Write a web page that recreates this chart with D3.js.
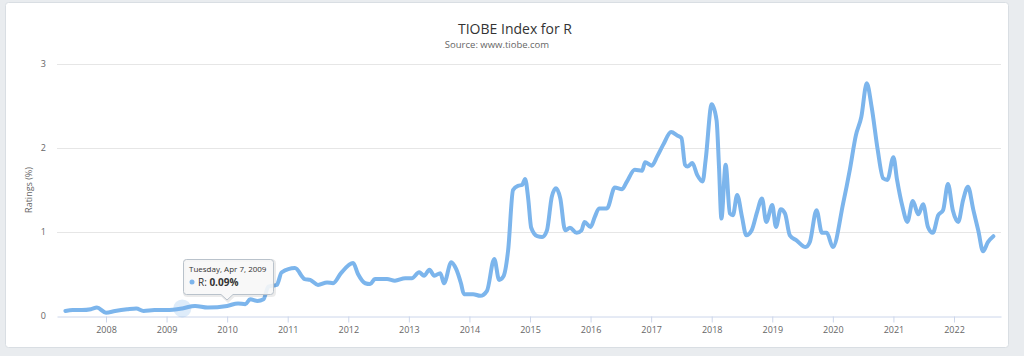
<!DOCTYPE html>
<html>
<head>
<meta charset="utf-8">
<script src="https://cdn.jsdelivr.net/npm/d3@7"></script>
<style>
  html, body { margin: 0; padding: 0; background: #e9ecef; }
  svg { display: block; }
  text { font-family: "Open Sans", "DejaVu Sans", sans-serif; }
</style>
</head>
<body>
<svg id="chart" width="1024" height="356"></svg>
<script>
// ---- data (decimal year, rating %) ----
const dates = [
  2007.33, 2007.45, 2007.6, 2007.75, 2007.85, 2008.0, 2008.15, 2008.35, 2008.5, 2008.62, 2008.8, 2009.0, 2009.26,
  2009.47, 2009.68, 2010.0, 2010.18, 2010.3, 2010.38, 2010.5, 2010.6, 2010.68, 2010.82, 2010.9, 2011.12,
  2011.28, 2011.37, 2011.5, 2011.65, 2011.75, 2011.88, 2012.08, 2012.16, 2012.28, 2012.36, 2012.44, 2012.64,
  2012.77, 2012.94, 2013.05, 2013.17, 2013.25, 2013.34, 2013.42, 2013.52, 2013.58, 2013.7, 2013.78, 2013.86,
  2013.91, 2014.06, 2014.18, 2014.29, 2014.41, 2014.49, 2014.56, 2014.64, 2014.72, 2014.8, 2014.87, 2014.92,
  2014.97, 2015.02, 2015.12, 2015.2, 2015.28, 2015.36, 2015.43, 2015.5, 2015.58, 2015.66, 2015.77, 2015.85,
  2015.9, 2016.0, 2016.07, 2016.14, 2016.27, 2016.4, 2016.52, 2016.6, 2016.73, 2016.85, 2016.9, 2017.01,
  2017.1, 2017.2, 2017.33, 2017.43, 2017.5, 2017.56, 2017.6, 2017.68, 2017.76, 2017.85, 2017.9, 2018.0,
  2018.08, 2018.12, 2018.16, 2018.23, 2018.3, 2018.35, 2018.42, 2018.5, 2018.57, 2018.66, 2018.75, 2018.83,
  2018.9, 2019.0, 2019.06, 2019.14, 2019.21, 2019.29, 2019.4, 2019.55, 2019.62, 2019.73, 2019.82, 2019.9,
  2020.0, 2020.17, 2020.28, 2020.38, 2020.47, 2020.56, 2020.64, 2020.74, 2020.83, 2020.9, 2021.0, 2021.06,
  2021.15, 2021.23, 2021.32, 2021.41, 2021.49, 2021.57, 2021.65, 2021.74, 2021.82, 2021.9, 2021.98, 2022.07,
  2022.15, 2022.23, 2022.32, 2022.4, 2022.48, 2022.56, 2022.65
];
const ratings = [
  0.06, 0.07, 0.07, 0.08, 0.10, 0.04, 0.06, 0.08, 0.09, 0.06, 0.07, 0.07, 0.09,
  0.12, 0.10, 0.12, 0.15, 0.14, 0.20, 0.18, 0.20, 0.35, 0.37, 0.52, 0.57,
  0.44, 0.43, 0.37, 0.40, 0.39, 0.51, 0.63, 0.50, 0.39, 0.38, 0.44, 0.44,
  0.42, 0.45, 0.45, 0.52, 0.48, 0.55, 0.48, 0.51, 0.39, 0.64, 0.56, 0.39,
  0.26, 0.26, 0.24, 0.30, 0.68, 0.43, 0.47, 0.79, 1.50, 1.55, 1.56, 1.63,
  1.40, 1.05, 0.95, 0.94, 1.02, 1.42, 1.52, 1.40, 1.02, 1.05, 0.99, 1.02,
  1.12, 1.06, 1.18, 1.28, 1.28, 1.53, 1.51, 1.60, 1.74, 1.73, 1.83, 1.79,
  1.90, 2.04, 2.19, 2.15, 2.12, 1.80, 1.78, 1.82, 1.68, 1.60, 1.86, 2.52,
  2.33, 1.78, 1.16, 1.80, 1.22, 1.20, 1.44, 1.18, 0.96, 1.02, 1.24, 1.40,
  1.12, 1.32, 1.06, 1.27, 1.22, 0.96, 0.90, 0.82, 0.88, 1.26, 0.99, 0.99,
  0.82, 1.34, 1.74, 2.15, 2.37, 2.77, 2.49, 1.98, 1.64, 1.62, 1.89, 1.62,
  1.30, 1.12, 1.37, 1.21, 1.33, 1.06, 0.99, 1.20, 1.26, 1.57, 1.26, 1.12,
  1.38, 1.54, 1.26, 1.02, 0.77, 0.88, 0.95
];
const xTickYears = [2008, 2009, 2010, 2011, 2012, 2013, 2014, 2015, 2016, 2017, 2018, 2019, 2020, 2021, 2022];
const yTicks = [0, 1, 2, 3];
const titleText = "TIOBE Index for R";
const subtitleText = "Source: www.tiobe.com";
const yAxisTitle = "Ratings (%)";
const seriesName = "R";
const tooltipDate = "Tuesday, Apr 7, 2009";
const tooltipPoint = { date: 2009.26, value: 0.09 };

// ---- layout ----
const W = 1024, H = 356;
const plot = { left: 57, right: 1001, top: 64, bottom: 316 };
const color = "#7cb5ec";

const svg = d3.select("#chart");

// card
svg.append("rect")
  .attr("x", 5.5).attr("y", 2.5).attr("width", 1003).attr("height", 345)
  .attr("rx", 3).attr("fill", "#ffffff").attr("stroke", "#d9dee3");

// scales
const x = d3.scaleLinear()
  .domain([2008 - (106 - plot.left) / 60.57, 2022 + (plot.right - 954) / 60.57])
  .range([plot.left, plot.right]);
const y = d3.scaleLinear().domain([0, 3]).range([plot.bottom, plot.top]);

// gridlines
svg.append("g").selectAll("line").data(yTicks.filter(d => d > 0)).join("line")
  .attr("x1", plot.left).attr("x2", plot.right)
  .attr("y1", d => Math.round(y(d)) + 0.5).attr("y2", d => Math.round(y(d)) + 0.5)
  .attr("stroke", "#e6e6e6").attr("stroke-width", 1);

// x axis
const xAxis = d3.axisBottom(x).tickValues(xTickYears).tickFormat(d => String(d))
  .tickSizeOuter(0).tickSizeInner(6).tickPadding(4);
const gx = svg.append("g").attr("transform", `translate(0,${plot.bottom + 0.5})`).call(xAxis);
gx.select(".domain").attr("stroke", "#ccd6eb");
gx.selectAll(".tick line").attr("stroke", "#ccd6eb");
gx.selectAll(".tick text").attr("fill", "#666").attr("font-size", 9).attr("font-family", "Open Sans, sans-serif");

// y axis labels
const yAxis = d3.axisLeft(y).tickValues(yTicks).tickFormat(d => String(d)).tickSize(0).tickPadding(11);
const gy = svg.append("g").attr("transform", `translate(${plot.left},0)`).call(yAxis);
gy.select(".domain").remove();
gy.selectAll(".tick text").attr("fill", "#666").attr("font-size", 9).attr("font-family", "Open Sans, sans-serif");

// y axis title
svg.append("text")
  .attr("transform", `translate(32,${(plot.top + plot.bottom) / 2}) rotate(-90)`)
  .attr("text-anchor", "middle").attr("fill", "#666").attr("font-size", 9)
  .text(yAxisTitle);

// title
svg.append("text").attr("x", 515).attr("y", 34).attr("text-anchor", "middle")
  .attr("fill", "#333").attr("font-size", 14).text(titleText);
svg.append("text").attr("x", 497).attr("y", 48).attr("text-anchor", "middle")
  .attr("fill", "#666").attr("font-size", 9.5).text(subtitleText);

// series line
const data = dates.map((d, i) => ({ d, v: ratings[i] }));
const line = d3.line().x(p => x(p.d)).y(p => y(p.v)).curve(d3.curveMonotoneX);
svg.append("path").datum(data)
  .attr("d", line).attr("fill", "none")
  .attr("stroke", color).attr("stroke-width", 4)
  .attr("stroke-linejoin", "round").attr("stroke-linecap", "round");

// hover halo
svg.append("circle")
  .attr("cx", x(tooltipPoint.date)).attr("cy", y(tooltipPoint.value))
  .attr("r", 9).attr("fill", color).attr("fill-opacity", 0.25);

// tooltip
const tb = { x0: 183.5, x1: 273.5, y0: 259.5, y1: 294.5, tipX: 227, tipY: 300 };
const tipPath = `M${tb.x0 + 3},${tb.y0} L${tb.x1 - 3},${tb.y0} Q${tb.x1},${tb.y0} ${tb.x1},${tb.y0 + 3}
  L${tb.x1},${tb.y1 - 3} Q${tb.x1},${tb.y1} ${tb.x1 - 3},${tb.y1}
  L${tb.tipX + 6},${tb.y1} L${tb.tipX},${tb.tipY} L${tb.tipX - 6},${tb.y1}
  L${tb.x0 + 3},${tb.y1} Q${tb.x0},${tb.y1} ${tb.x0},${tb.y1 - 3}
  L${tb.x0},${tb.y0 + 3} Q${tb.x0},${tb.y0} ${tb.x0 + 3},${tb.y0} Z`;
svg.append("path").attr("d", tipPath).attr("transform", "translate(1,1)")
  .attr("fill", "none").attr("stroke", "#000").attr("stroke-opacity", 0.08).attr("stroke-width", 3);
svg.append("path").attr("d", tipPath)
  .attr("fill", "#f7f7f7").attr("fill-opacity", 0.9)
  .attr("stroke", "#b9c2cb").attr("stroke-width", 1);
svg.append("text").attr("x", 189).attr("y", 272).attr("fill", "#333").attr("font-size", 8)
  .text(tooltipDate);
svg.append("circle").attr("cx", 192).attr("cy", 282).attr("r", 2.5).attr("fill", color);
const t2 = svg.append("text").attr("x", 198).attr("y", 285.5).attr("fill", "#333").attr("font-size", 10);
t2.append("tspan").text(seriesName + ": ");
t2.append("tspan").attr("font-weight", "bold").text(tooltipPoint.value.toFixed(2) + "%");
</script>
</body>
</html>
